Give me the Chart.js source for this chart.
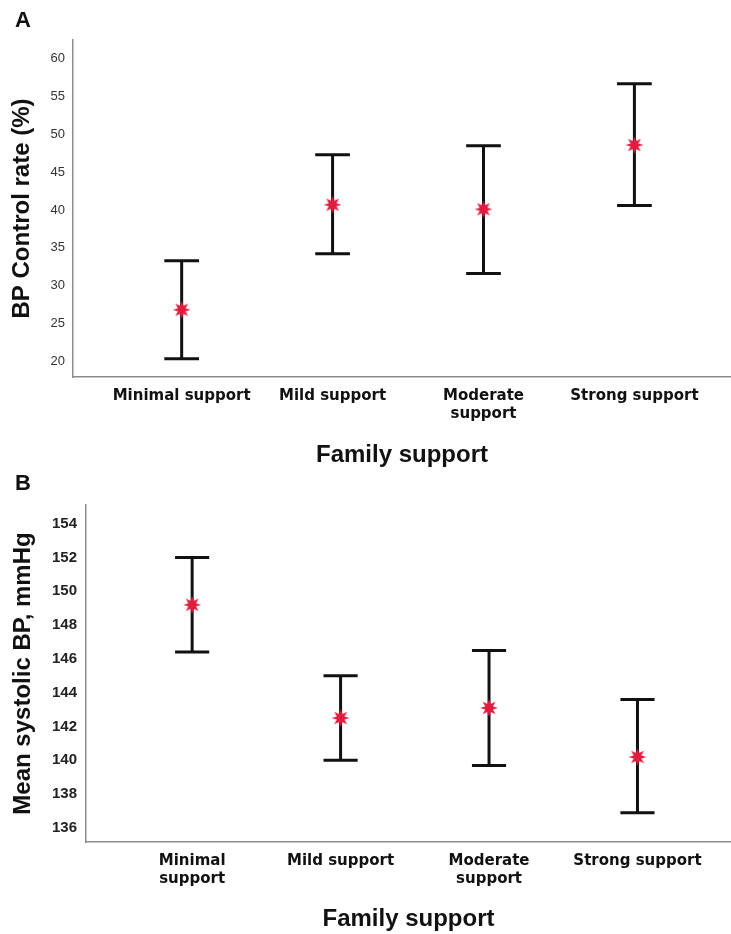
<!DOCTYPE html>
<html>
<head>
<meta charset="utf-8">
<script src="https://cdn.jsdelivr.net/npm/chart.js@4.4.1/dist/chart.umd.min.js"></script>
<style>
  body { margin: 0; background: #fff; overflow: hidden; }
  .panel { position: absolute; left: 0; width: 731px; }
  .letter { position: absolute; left: 15px; font: bold 22px "Liberation Sans", Arial, sans-serif; line-height: 22px; color: #111; }
</style>
</head>
<body>
<div class="panel" style="top:0;height:470px"><canvas id="chart-a"></canvas></div>
<div class="panel" style="top:470px;height:464px"><canvas id="chart-b"></canvas></div>
<div class="letter" style="top:9px">A</div>
<div class="letter" style="top:472px">B</div>
<script>
// panel A: BP control rate by family support
const labelsA = ['Minimal support', 'Mild support', ['Moderate', 'support'], 'Strong support'];
const rateMean = [26.8, 40.7, 40.1, 48.6];
const rateLow = [20.3, 34.2, 31.6, 40.6];
const rateHigh = [33.3, 47.3, 48.5, 56.7];
const ticksA = [20, 25, 30, 35, 40, 45, 50, 55, 60];

// panel B: mean systolic BP by family support
const labelsB = [['Minimal', 'support'], 'Mild support', ['Moderate', 'support'], 'Strong support'];
const sbpMean = [149.2, 142.5, 143.1, 140.2];
const sbpLow = [146.4, 140.0, 139.7, 136.9];
const sbpHigh = [152.0, 145.0, 146.5, 143.6];
const ticksB = [136, 138, 140, 142, 144, 146, 148, 150, 152, 154];

const capHalf = 0.115;
const starRed = '#e11d3f';

// filled 8-point star used as the point style
function makeStar() {
  const c = document.createElement('canvas');
  c.width = 20; c.height = 20;
  const g = c.getContext('2d');
  g.fillStyle = starRed;
  g.beginPath();
  for (let k = 0; k < 16; k++) {
    const r = k % 2 === 0 ? 9 : 4.2;
    const a = -Math.PI / 2 + k * Math.PI / 8;
    const px = 10 + r * Math.cos(a), py = 10 + r * Math.sin(a);
    if (k === 0) g.moveTo(px, py); else g.lineTo(px, py);
  }
  g.closePath();
  g.fill();
  return c;
}
const star = makeStar();

function whiskers(low, high) {
  const pts = [];
  low.forEach((l, i) => {
    const h = high[i];
    pts.push({x: i - capHalf, y: h}, {x: i + capHalf, y: h}, {x: i, y: null});
    pts.push({x: i, y: h}, {x: i, y: l}, {x: i, y: null});
    pts.push({x: i - capHalf, y: l}, {x: i + capHalf, y: l}, {x: i, y: null});
  });
  return pts;
}

function buildChart(id, opts) {
  const ctx = document.getElementById(id);
  return new Chart(ctx, {
    type: 'scatter',
    data: {
      datasets: [{
        data: opts.mean.map((v, i) => ({x: i, y: v})),
        pointStyle: star,
        pointRadius: 9,
        showLine: false
      }, {
        data: whiskers(opts.low, opts.high),
        showLine: true,
        spanGaps: false,
        borderColor: '#111',
        borderWidth: 3,
        borderCapStyle: 'butt',
        pointRadius: 0,
        pointHoverRadius: 0
      }]
    },
    options: {
      responsive: true,
      maintainAspectRatio: false,
      animation: false,
      events: [],
      layout: { autoPadding: false, padding: { top: opts.top, left: 0, right: 0, bottom: 0 } },
      plugins: { legend: { display: false }, tooltip: { enabled: false } },
      scales: {
        x: {
          type: 'linear',
          min: opts.xMin,
          max: opts.xMax,
          grid: { display: false, tickLength: 0 },
          border: { display: true, color: '#8c8c8c', width: 1.5 },
          afterBuildTicks: (s) => { s.ticks = opts.labels.map((l, i) => ({value: i})); },
          afterFit: (s) => { s.height = opts.xHeight; s.paddingLeft = 0; s.paddingRight = 0; },
          ticks: {
            autoSkip: false,
            maxRotation: 0,
            padding: 10,
            color: '#111',
            font: { family: 'DejaVu Sans', size: 15, weight: 'bold', lineHeight: 1.2 },
            callback: (v) => opts.labels[Math.round(v)]
          },
          title: {
            display: true,
            text: 'Family support',
            color: '#111',
            padding: { top: 0, bottom: opts.titlePad },
            font: { family: 'Liberation Sans', size: 24, weight: 'bold', lineHeight: 1.2 }
          }
        },
        y: {
          min: opts.yMin,
          max: opts.yMax,
          grid: { display: false, tickLength: 0 },
          border: { display: true, color: '#8c8c8c', width: 1.5 },
          afterBuildTicks: (s) => { s.ticks = opts.yTicks.map((v) => ({value: v})); },
          afterFit: (s) => { s.width = opts.yWidth; s.paddingTop = 0; s.paddingBottom = 0; },
          ticks: {
            padding: opts.yPad,
            color: opts.yTickColor,
            font: opts.yTickFont
          },
          title: {
            display: true,
            text: opts.yTitle,
            color: '#111',
            padding: { top: opts.yTitlePad, bottom: 0 },
            font: { family: 'Liberation Sans', size: opts.yTitleSize, weight: 'bold', lineHeight: 1.2 }
          }
        }
      }
    }
  });
}

buildChart('chart-a', {
  labels: labelsA, mean: rateMean, low: rateLow, high: rateHigh, yTicks: ticksA,
  xMin: -0.72, xMax: 3.64, yMin: 17.9, yMax: 62.5,
  top: 40, xHeight: 93, yWidth: 73, yPad: 8, titlePad: 0,
  yTickColor: '#333', yTickFont: { family: 'Liberation Sans', size: 13 },
  yTitle: 'BP Control rate (%)', yTitleSize: 24, yTitlePad: 8
});

buildChart('chart-b', {
  labels: labelsB, mean: sbpMean, low: sbpLow, high: sbpHigh, yTicks: ticksB,
  xMin: -0.715, xMax: 3.63, yMin: 135.17, yMax: 155.1,
  top: 35, xHeight: 92, yWidth: 86, yPad: 9, titlePad: 0,
  yTickColor: '#222', yTickFont: { family: 'Liberation Sans', size: 15, weight: 'bold' },
  yTitle: 'Mean systolic BP, mmHg', yTitleSize: 24, yTitlePad: 9
});
</script>
</body>
</html>
